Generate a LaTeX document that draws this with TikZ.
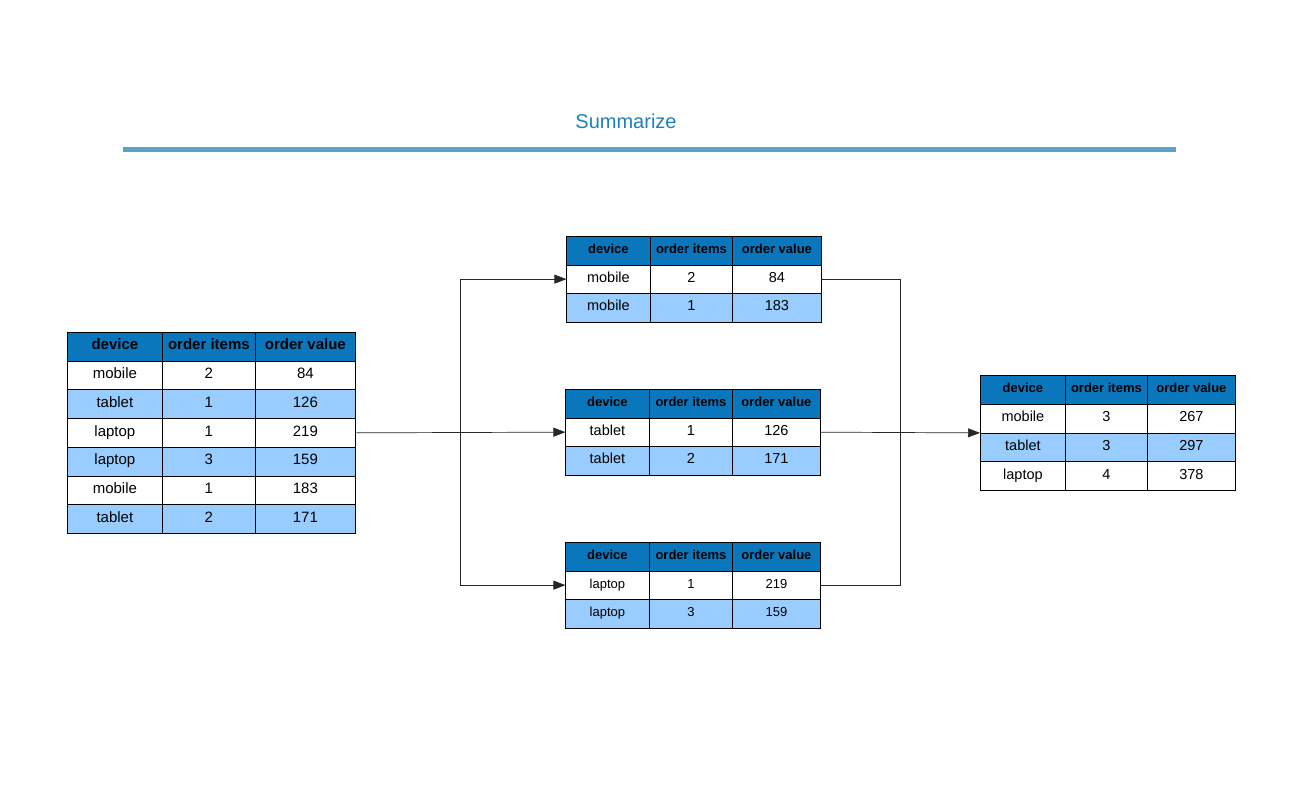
\documentclass[tikz,border=0pt]{standalone}
\usepackage{fontspec}
\setmainfont{Liberation Sans}
\usetikzlibrary{matrix,arrows.meta}
\definecolor{headblue}{HTML}{0A77BD}
\definecolor{rowblue}{HTML}{99CCFF}
\definecolor{titleblue}{HTML}{1F7FBA}
\definecolor{ruleblue}{HTML}{5BA4C8}
\tikzset{
  tbl/.style n args={4}{matrix of nodes, inner sep=0pt, outer sep=0pt,
    row sep=-0.8pt, column sep=-0.8pt, anchor=north west,
    nodes={draw=black, line width=0.8pt, inner sep=0pt, minimum height=#4,
      text height=1.5ex, text depth=.3ex},
    column 1/.style={nodes={minimum width=#1}},
    column 2/.style={nodes={minimum width=#2}},
    column 3/.style={nodes={minimum width=#3}},
    row 1/.style={nodes={fill=headblue}},
    row 3/.style={nodes={fill=rowblue}}},
  arr/.style={-{Triangle[length=12pt,width=9pt]}, line width=0.7pt, draw=black!85},
  link/.style={line width=0.7pt, draw=black!85}
}
\begin{document}
\begin{tikzpicture}[x=1pt,y=-1pt]
  \useasboundingbox (0,0) rectangle (1300,800);
  \node[text=titleblue, font=\fontsize{20}{24}\selectfont] (title) at (626,121) {Summarize};
  \draw[ruleblue, line width=5pt] (123,149) -- (1176,149);
  % input table
  \matrix[tbl={95pt}{93pt}{100pt}{28.7pt}, nodes={font=\fontsize{15}{18}\selectfont},
    row 1/.append style={nodes={font=\bfseries\fontsize{15}{18}\selectfont}},
    row 5/.style={nodes={fill=rowblue}}, row 7/.style={nodes={fill=rowblue}}] (src) at (67,332) {
    device & order items & order value \\
    mobile & 2 & 84 \\
    tablet & 1 & 126 \\
    laptop & 1 & 219 \\
    laptop & 3 & 159 \\
    mobile & 1 & 183 \\
    tablet & 2 & 171 \\
  };
  % groups
  \matrix[tbl={84pt}{82pt}{89pt}{28.5pt}, nodes={font=\fontsize{14.5}{17}\selectfont},
    row 1/.append style={nodes={font=\bfseries\fontsize{13}{16}\selectfont}}] (mob) at (566,236) {
    device & order items & order value \\
    mobile & 2 & 84 \\
    mobile & 1 & 183 \\
  };
  \matrix[tbl={84pt}{83pt}{88pt}{28.5pt}, nodes={font=\fontsize{14.5}{17}\selectfont},
    row 1/.append style={nodes={font=\bfseries\fontsize{13}{16}\selectfont}}] (tab) at (565,389) {
    device & order items & order value \\
    tablet & 1 & 126 \\
    tablet & 2 & 171 \\
  };
  \matrix[tbl={84pt}{83pt}{88pt}{28.5pt}, nodes={font=\fontsize{13}{16}\selectfont},
    row 1/.append style={nodes={font=\bfseries\fontsize{13}{16}\selectfont}}] (lap) at (565,542) {
    device & order items & order value \\
    laptop & 1 & 219 \\
    laptop & 3 & 159 \\
  };
  % result
  \matrix[tbl={85pt}{82pt}{88pt}{28.75pt}, nodes={font=\fontsize{14.5}{17}\selectfont},
    row 1/.append style={nodes={font=\bfseries\fontsize{13}{16}\selectfont}}] (sum) at (980,375) {
    device & order items & order value \\
    mobile & 3 & 267 \\
    tablet & 3 & 297 \\
    laptop & 4 & 378 \\
  };
  \coordinate (split) at (460,432);
  \coordinate (join) at (900,432);
  \draw[arr] (src-4-3.east) -- (tab-2-1.west);
  \draw[arr] (split) |- (mob-2-1.west);
  \draw[arr] (split) |- (lap-2-1.west);
  \draw[link] (mob-2-3.east) -| (join);
  \draw[link] (lap-2-3.east) -| (join);
  \draw[arr] (tab-2-3.east) -- (sum.west);
\end{tikzpicture}
\end{document}
